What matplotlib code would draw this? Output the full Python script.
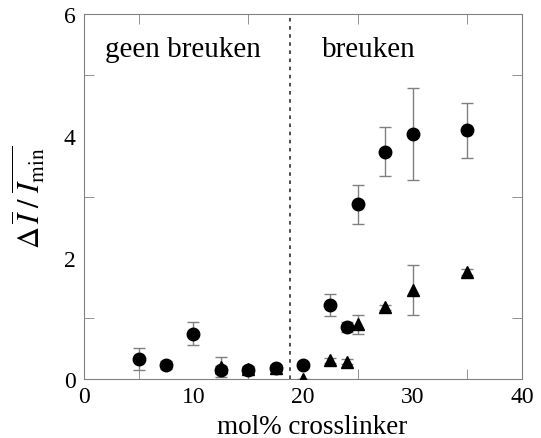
import numpy as np
import matplotlib.pyplot as plt
from matplotlib.ticker import MultipleLocator

plt.rcParams['font.family'] = ['Liberation Serif', 'DejaVu Serif']
plt.rcParams['mathtext.fontset'] = 'stix'

# --- cirkels ---
x_circ = [5, 7.5, 10, 12.5, 15, 17.5, 20, 22.5, 24, 25, 27.5, 30, 35]
y_circ = [0.33, 0.23, 0.75, 0.15, 0.15, 0.18, 0.24, 1.22, 0.86, 2.88, 3.74, 4.03, 4.09]
e_circ = [0.18, 0.07, 0.19, 0.07, 0.05, 0.05, 0.04, 0.18, 0.08, 0.32, 0.40, 0.76, 0.45]

# --- driehoeken ---
x_tri = [12.5, 15, 17.5, 20, 22.5, 24, 25, 27.5, 30, 35]
y_tri = [0.20, 0.17, 0.19, 0.00, 0.31, 0.29, 0.90, 1.18, 1.47, 1.77]
e_tri = [0.16, 0.04, 0.04, 0.00, 0.04, 0.04, 0.15, 0.04, 0.41, 0.05]

grens = 18.8

fig, ax = plt.subplots(figsize=(5.41, 4.39), dpi=100)
fig.subplots_adjust(left=0.155, right=0.965, top=0.965, bottom=0.134)

grey = "#808080"
ax.errorbar(x_tri, y_tri, yerr=e_tri, fmt="^", color="black", ms=8,
            ecolor=grey, elinewidth=1, capsize=4.5, capthick=1, zorder=3)
ax.errorbar(x_circ, y_circ, yerr=e_circ, fmt="o", color="black", ms=9,
            ecolor=grey, elinewidth=1, capsize=4.5, capthick=1, zorder=4)

ax.axvline(grens, color="#404040", ls=(0, (2, 2.5)), lw=1.3, zorder=1)

ax.text(1.9, 5.43, "geen breuken", fontsize=21, va="center")
ax.text(21.7, 5.43, "breuken", fontsize=21, va="center")

ax.set_xlim(0, 40)
ax.set_ylim(0, 6)
ax.tick_params(which="both", direction="in", top=True, right=True,
               color=grey, labelsize=17)
ax.set_xticks([0, 10, 20, 30, 40])
ax.set_yticks([0, 2, 4, 6])
ax.tick_params(which="major", length=0)
ax.tick_params(which="minor", length=7)
ax.tick_params(axis="x", pad=5)
ax.tick_params(axis="y", pad=6)
for s in ax.spines.values():
    s.set_color(grey)

# in het origineel staan alle streepjes even lang
ax.set_xticks([0, 5, 10, 15, 20, 25, 30, 35, 40], minor=True)
ax.set_yticks([0, 1, 2, 3, 4, 5, 6], minor=True)

ax.set_xlabel("mol% crosslinker", fontsize=19.5, labelpad=4)
ax.xaxis.set_label_coords(0.52, -0.095)
ax.set_ylabel(r"$\Delta\,\overline{I}\;/\;\overline{I_{\rm min}}$", fontsize=22,
              labelpad=12)

fig.savefig("out.png", dpi=100)
